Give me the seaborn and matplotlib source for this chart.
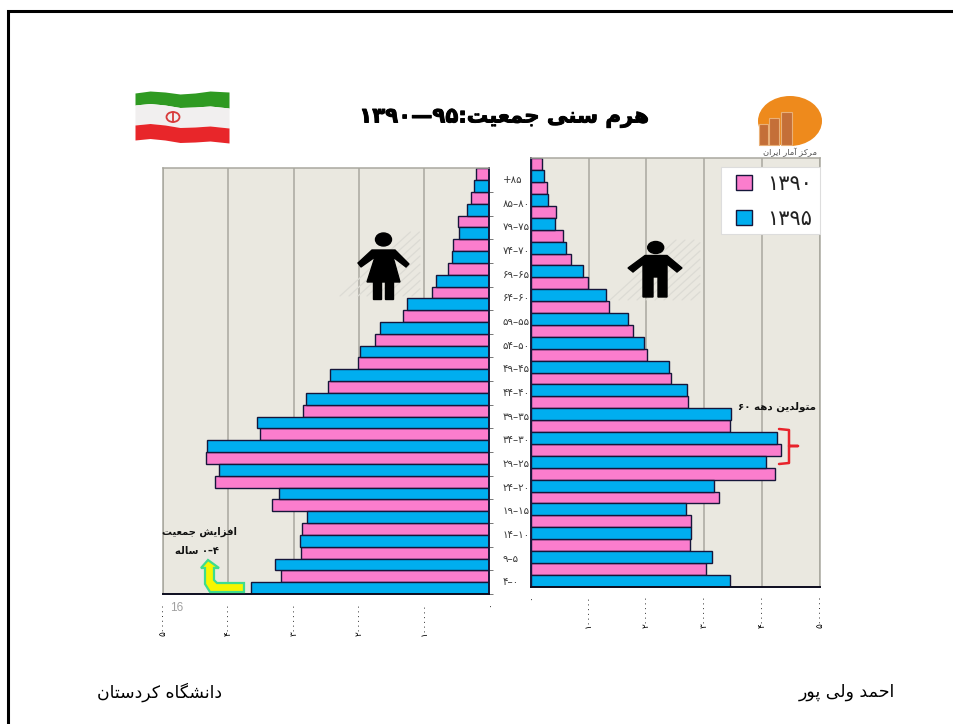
import matplotlib
matplotlib.use("Agg")
import matplotlib.pyplot as plt
import matplotlib.patheffects as pe
import numpy as np
import pandas as pd
import seaborn as sns
from matplotlib.patches import Ellipse, Polygon, Rectangle

# population pyramid, millions of people
ages = ['+۸۵', '۸۵–۸۰', '۷۹–۷۵', '۷۴–۷۰', '۶۹–۶۵', '۶۴–۶۰', '۵۹–۵۵', '۵۴–۵۰', '۴۹–۴۵',
        '۴۴–۴۰', '۳۹–۳۵', '۳۴–۳۰', '۲۹–۲۵', '۲۴–۲۰', '۱۹–۱۵', '۱۴–۱۰', '۹–۵', '۴–۰']
years = ['۱۳۹۰', '۱۳۹۵']
female_1390 = [.21, .28, .475, .56, .64, .874, 1.33, 1.76, 2.02, 2.48, 2.85, 3.51, 4.35, 4.20, 3.34, 2.88, 2.89, 3.19]
female_1395 = [.23, .34, .46, .57, .81, 1.26, 1.67, 1.98, 2.45, 2.81, 3.57, 4.335, 4.14, 3.23, 2.79, 2.91, 3.28, 3.65]
male_1390 = [.196, .276, .43, .553, .69, .985, 1.354, 1.763, 2.005, 2.42, 2.713, 3.45, 4.32, 4.217, 3.26, 2.776, 2.76, 3.036]
male_1395 = [.225, .305, .426, .605, .904, 1.296, 1.682, 1.953, 2.385, 2.696, 3.456, 4.257, 4.06, 3.162, 2.68, 2.776, 3.128, 3.44]
ticks = [0, 1, 2, 3, 4, 5]
tick_labels = ['۰', '۱۰۰۰۰۰۰', '۲۰۰۰۰۰۰', '۳۰۰۰۰۰۰', '۴۰۰۰۰۰۰', '۵۰۰۰۰۰۰']

W, H = 954, 724
PINK, BLUE = '#FB7DCD', '#00AEEF'
EDGE = '#16163a'
BG = '#EAE8E0'
GRID = '#a9a89f'

# letter: isolated, final, initial, medial (matplotlib does no Arabic shaping)
FORMS = {
    'ا': '\uFE8D\uFE8E', 'آ': '\uFE81\uFE82', 'د': '\uFEA9\uFEAA', 'ر': '\uFEAD\uFEAE',
    'ز': '\uFEAF\uFEB0', 'و': '\uFEED\uFEEE',
    'ت': '\uFE95\uFE96\uFE97\uFE98', 'پ': '\uFB56\uFB57\uFB58\uFB59',
    'ج': '\uFE9D\uFE9E\uFE9F\uFEA0', 'ح': '\uFEA1\uFEA2\uFEA3\uFEA4',
    'س': '\uFEB1\uFEB2\uFEB3\uFEB4', 'ش': '\uFEB5\uFEB6\uFEB7\uFEB8',
    'ع': '\uFEC9\uFECA\uFECB\uFECC', 'ف': '\uFED1\uFED2\uFED3\uFED4',
    'ک': '\uFB8E\uFB8F\uFB90\uFB91', 'گ': '\uFB92\uFB93\uFB94\uFB95',
    'ل': '\uFEDD\uFEDE\uFEDF\uFEE0', 'م': '\uFEE1\uFEE2\uFEE3\uFEE4',
    'ن': '\uFEE5\uFEE6\uFEE7\uFEE8', 'ه': '\uFEE9\uFEEA\uFEEB\uFEEC',
    'ی': '\uFBFC\uFBFD\uFBFE\uFBFF',
}


def fa(text):
    # shape a Persian string and put it in visual (left to right) order
    out = []
    for i, c in enumerate(text):
        forms = FORMS.get(c)
        if forms is None:
            out.append(c)
            continue
        prev_joins = i > 0 and len(FORMS.get(text[i - 1], '')) == 4
        next_joins = i + 1 < len(text) and text[i + 1] in FORMS
        if len(forms) == 2:
            out.append(forms[1] if prev_joins else forms[0])
        elif prev_joins and next_joins:
            out.append(forms[3])
        elif prev_joins:
            out.append(forms[1])
        elif next_joins:
            out.append(forms[2])
        else:
            out.append(forms[0])
    return ''.join(reversed(out))


def tidy(v1390, v1395):
    return pd.DataFrame({
        'age': ages * 2,
        'pop': v1390 + v1395,
        'year': [years[0]] * len(ages) + [years[1]] * len(ages),
    })


def axes_px(x0, x1, y0, y1):
    return fig.add_axes([x0 / W, 1 - y1 / H, (x1 - x0) / W, (y1 - y0) / H])


sns.set_theme(style='white')
plt.rcParams['font.family'] = ['DejaVu Sans']
fig = plt.figure(figsize=(W / 100, H / 100), dpi=100, facecolor='white')

ax_f = axes_px(163.3, 489.3, 168.3, 594)
ax_m = axes_px(530.7, 820, 158.3, 586.7)

for ax, df in ((ax_f, tidy(female_1390, female_1395)), (ax_m, tidy(male_1390, male_1395))):
    sns.barplot(data=df, y='age', x='pop', hue='year', order=ages, hue_order=years,
                palette=[PINK, BLUE], saturation=1, width=1, gap=0, orient='h',
                edgecolor=EDGE, linewidth=1.0, errorbar=None, legend=ax is ax_m, ax=ax)
    ax.set_facecolor(BG)
    ax.set_xlim(0, 5)
    ax.set_ylim(17.5, -0.5)
    ax.set_xlabel('')
    ax.set_ylabel('')
    ax.set_axisbelow(True)
    ax.xaxis.grid(True, color=GRID, lw=1.1)
    ax.yaxis.grid(False)
    ax.set_xticks(ticks)
    ax.set_xticklabels(tick_labels, rotation=90, fontsize=6.4, color='black', va='top', ha='center')
    ax.tick_params(axis='x', length=0, pad=6)
    for side in ('top', 'left', 'right'):
        ax.spines[side].set_color(GRID)
        ax.spines[side].set_linewidth(1.1)
    ax.spines['bottom'].set_color('#0c0c1e')
    ax.spines['bottom'].set_linewidth(1.4)

# female side runs right to left, age labels sit between the panels
ax_f.set_xlim(5, 0)
ax_f.spines['right'].set_color(EDGE)
ax_f.spines['right'].set_linewidth(1.4)
ax_f.yaxis.tick_right()
ax_f.set_yticks(range(len(ages)))
ax_f.set_yticklabels(ages, fontsize=7.4, color='#3a3a3a', ha='left', va='center')
ax_f.tick_params(axis='y', which='major', length=0, pad=9.5, labelright=True, labelleft=False)
ax_f.set_yticks(np.arange(len(ages)) + 0.5, minor=True)
ax_f.tick_params(axis='y', which='minor', length=3, width=0.7, color='#777777', right=True, left=False)

ax_m.spines['left'].set_color(EDGE)
ax_m.spines['left'].set_linewidth(1.4)
ax_m.set_yticks([])

# legend box is drawn apart so its padding can differ from the swatch spacing
ax_m.add_patch(Rectangle((720.7 / W, 1 - 234 / H), 99.3 / W, 67.3 / H, transform=fig.transFigure,
                         fc='white', ec='#dddddd', lw=0.8, zorder=4, clip_on=False))
leg = ax_m.legend(loc='upper left', bbox_to_anchor=(736 / W, 1 - 174 / H), bbox_transform=fig.transFigure,
                  borderaxespad=0, borderpad=0, frameon=False, fontsize=15, labelcolor='#222222',
                  handlelength=0.76, handleheight=0.76, handletextpad=0.76, labelspacing=0.72)
leg.set_zorder(5)
leg.set_title(None)

# overlay in pixel coordinates for slide furniture
deco = fig.add_axes([0, 0, 1, 1], zorder=5)
deco.set_xlim(0, W)
deco.set_ylim(H, 0)
deco.axis('off')

# slide border
deco.plot([8.5, 8.5, W], [H, 10.5, 10.5], color='black', lw=2.2, solid_joinstyle='miter')


# hatch behind the figures
def hatch(x0, x1, y0, y1, step=9):
    for x in np.arange(x0, x1, step):
        xa, xb = x, min(x + (y1 - y0) * 1.1, x1)
        deco.plot([xa, xb], [y1, y1 - (xb - xa) / 1.1], color='#dcdbd4', lw=0.9, zorder=1)


hatch(340, 420, 232, 296)
hatch(610, 700, 240, 300)


def woman():
    deco.add_patch(Ellipse((383.5, 239.5), 16, 13, color='black', zorder=2))
    body = [(372, 250), (395, 250), (409, 264), (406, 267), (393, 257), (400, 282), (367, 282), (375, 257),
            (361, 267), (358, 263)]
    deco.add_patch(Polygon(body, color='black', zorder=2))
    deco.add_patch(Rectangle((373, 281), 8, 18, color='black', zorder=2))
    deco.add_patch(Rectangle((385, 281), 8, 18, color='black', zorder=2))


def man():
    deco.add_patch(Ellipse((655.7, 247.5), 16, 12, color='black', zorder=2))
    body = [(645, 255.5), (667, 255.5), (682, 268), (677, 272), (667, 264), (667, 297), (658, 297), (658, 277),
            (653, 277), (653, 297), (643, 297), (643, 264), (633, 272), (628, 268)]
    deco.add_patch(Polygon(body, color='black', zorder=2))


woman()
man()

# flag
fx = np.array([135, 150, 165, 180, 195, 210, 229])
wave = np.array([0, -2, -1, 1, 0, -2, -1])
slope = np.array([0, 0.5, 1, 1.5, 2, 3, 4])
deco.fill_between(fx, 93 + wave, 105 + wave + slope, color='#2f9a22', lw=0)
deco.fill_between(fx, 105 + wave + slope, 125 + wave + slope, color='#f1efef', lw=0)
deco.fill_between(fx, 125 + wave + slope, 140 + wave + slope, color='#e8262a', lw=0)
deco.add_patch(Ellipse((173, 117), 13, 10, fill=False, ec='#d83a3a', lw=1.3))
deco.plot([173, 173], [112, 122], color='#d83a3a', lw=1.3)

# logo
deco.add_patch(Ellipse((790, 121), 64, 50, color='#EE8A1C', lw=0))
for x0, x1, y0 in ((759, 768, 124), (769.5, 779.5, 118), (781, 792, 112)):
    deco.add_patch(Rectangle((x0, y0), x1 - x0, 145 - y0, fc='#C46F38', ec='#E9B078', lw=0.8))
deco.text(790, 152, fa('مرکز آمار ایران'), fontsize=6, color='#555555', ha='center', va='center')

# title, extra stroke because the reference face is much heavier
heavy = [pe.withStroke(linewidth=0.7, foreground='black')]
deco.text(504, 117.5, '۱۳۹۰—۹۵:' + fa('هرم سنی جمعیت'), fontsize=15.3, fontweight='bold', color='black',
          ha='center', va='center', path_effects=heavy)

# annotations
deco.text(777.5, 407, '۶۰ ' + fa('متولدین دهه'), fontsize=7.4, fontweight='bold', color='#111111',
          ha='center', va='center')
deco.plot([779, 789, 789, 798, 789, 789, 779], [429, 430, 446, 446, 446, 463, 464], color='#E8232B', lw=1.8)

deco.text(200, 532, fa('افزایش جمعیت'), fontsize=7.2, fontweight='bold', color='#111111', ha='center', va='center')
deco.text(197, 550.5, fa('ساله') + ' ۰–۴', fontsize=7.2, fontweight='bold', color='#111111', ha='center', va='center')
arrow = [(244, 583), (217, 583), (214, 580), (214, 568), (219, 568), (208, 560), (201, 568), (205, 568), (205, 584),
         (210, 592), (244, 592)]
deco.add_patch(Polygon(arrow, fc='#F6F600', ec='#3FDC8E', lw=1.6, zorder=6))

deco.text(177, 608, '16', fontsize=8.5, color='#a0a0a0', family='Liberation Sans', ha='center', va='center')

# footer
deco.text(846.5, 692, fa('احمد ولی پور'), fontsize=12.5, color='black', ha='center', va='center')
deco.text(159.5, 692, fa('دانشگاه کردستان'), fontsize=12.4, color='black', ha='center', va='center')

fig.savefig('out.png', dpi=100)
